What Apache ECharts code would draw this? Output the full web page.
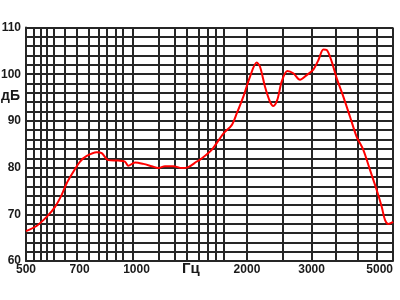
<!DOCTYPE html>
<html>
<head>
<meta charset="utf-8">
<script src="https://cdn.jsdelivr.net/npm/echarts@6/dist/echarts.min.js"></script>
<style>
html,body{margin:0;padding:0;background:#fff;}
#chart{width:400px;height:300px;}
</style>
</head>
<body>
<div id="chart"></div>
<script>
// Frequency response data (Hz, dB)
const freqs = [500, 534, 570, 600, 625, 645, 673, 702, 732, 779, 804, 838, 892, 930, 950, 991, 1044, 1100, 1147, 1196, 1260, 1329, 1384, 1460, 1490, 1603, 1725, 1818, 1876, 1955, 2039, 2126, 2171, 2240, 2311, 2360, 2419, 2487, 2576, 2675, 2790, 2910, 3033, 3130, 3230, 3299, 3404, 3513, 3661, 3818, 3981, 4150, 4328, 4514, 4658, 4755, 4855, 4960, 5000];
const levels = [66.4, 67.5, 69.5, 71.6, 74.1, 76.6, 79.1, 81.3, 82.5, 83.3, 83.1, 81.6, 81.5, 81.3, 80.4, 81.1, 80.8, 80.3, 79.9, 80.3, 80.3, 79.9, 80.1, 81.3, 81.7, 83.8, 87.3, 89.1, 91.6, 95.2, 99.5, 102.5, 101.6, 97.3, 94.1, 93.2, 94.5, 98.4, 100.7, 100.2, 98.8, 99.8, 101.0, 103.0, 105.3, 105.2, 102.7, 99.1, 95.2, 90.9, 86.6, 83.8, 79.5, 75.2, 71.6, 68.8, 67.9, 68.2, 68.4];
// Vertical grid line frequencies (Hz)
const gridFreqs = [500, 526, 550, 569, 596, 638, 688, 740, 788, 831, 877, 919, 979, 1148, 1270, 1370, 1476, 1566, 1647, 1726, 2000, 2500, 3000, 3500, 4000, 4520, 5000];
// X tick labels (Hz)
const xTickLabels = [500, 700, 1000, 2000, 3000, 5000];
// Y axis range / ticks (dB)
const yMin = 60, yMax = 110, yStep = 2, yLabelStep = 10;
const xUnit = 'Гц', yUnit = 'дБ';

const chart = echarts.init(document.getElementById('chart'), null, {renderer: 'canvas'});
const gridColor = '#262626';
const font = 'Liberation Sans, Arial, sans-serif';

chart.setOption({
  animation: false,
  backgroundColor: '#fff',
  grid: {left: 26, right: 7, top: 27.5, bottom: 39, containLabel: false, outerBoundsMode: 'none'},
  xAxis: {
    type: 'log', logBase: 10, min: 500, max: 5000,
    axisLine: {show: true, lineStyle: {color: gridColor, width: 2}},
    axisTick: {show: false},
    splitLine: {show: false},
    axisLabel: {
      customValues: xTickLabels,
      alignMaxLabel: 'right',
      margin: 3,
      color: '#1a1a1a', fontWeight: 'bold', fontSize: 12, fontFamily: font,
      formatter: v => String(Math.round(v))
    }
  },
  yAxis: {
    type: 'value', min: yMin, max: yMax, interval: yStep,
    axisLine: {show: true, lineStyle: {color: gridColor, width: 2}},
    axisTick: {show: false},
    splitLine: {show: true, lineStyle: {color: gridColor, width: 2}},
    axisLabel: {
      margin: 5,
      color: '#1a1a1a', fontWeight: 'bold', fontSize: 12, fontFamily: font,
      formatter: v => (v % yLabelStep === 0 ? String(v) : '')
    }
  },
  graphic: [{
    type: 'text', left: 1, top: 89,
    style: {text: yUnit, fill: '#1a1a1a', font: 'bold 14px ' + font}
  }, {
    type: 'text', left: 182, top: 261,
    style: {text: xUnit, fill: '#1a1a1a', font: 'bold 15px ' + font}
  }],
  series: [{
    type: 'line', data: [], silent: true, z: 1,
    markLine: {
      silent: true, symbol: 'none', animation: false,
      label: {show: false},
      lineStyle: {color: gridColor, width: 2, type: 'solid'},
      data: gridFreqs.map(f => ({xAxis: f}))
    }
  }, {
    type: 'line', z: 5,
    data: freqs.map((f, i) => [f, levels[i]]),
    smooth: 0.3, showSymbol: false, symbol: 'none',
    lineStyle: {color: '#ff0000', width: 2}
  }]
});
</script>
</body>
</html>
